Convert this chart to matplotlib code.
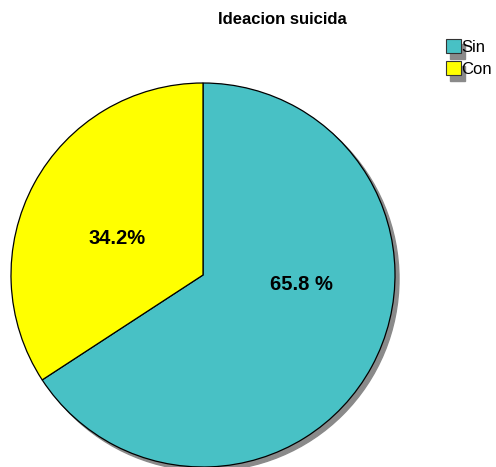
import matplotlib
matplotlib.use("Agg")
import matplotlib.pyplot as plt
from matplotlib.patches import Circle, Rectangle

categories = ["Sin", "Con"]
values = [65.8, 34.2]
labels = ["65.8 %", "34.2%"]
colors = ["#48C1C5", "#FFFF00"]
title = "Ideacion suicida"

W, H = 496, 467
plt.rcParams["font.family"] = ["Liberation Sans", "DejaVu Sans"]

fig = plt.figure(figsize=(W / 100, H / 100), dpi=100)
ax = fig.add_axes([0, 0, 1, 1])
cx, cy, r = 203, H - 275, 192

# drop shadow under the pie
ax.add_patch(Circle((cx + 4, cy - 4), r, color="#8a8a8a", zorder=0))
wedges, _ = ax.pie(values, colors=colors, startangle=90, counterclock=False,
                   center=(cx, cy), radius=r, frame=True,
                   wedgeprops=dict(edgecolor="black", linewidth=0.9))
for w in wedges:
    w.set_zorder(1)

ax.text(301, H - 284, labels[0], ha="center", va="center", fontsize=14.5, fontweight="bold", zorder=3)
ax.text(117, H - 238, labels[1], ha="center", va="center", fontsize=14.5, fontweight="bold", zorder=3)

ax.text(282, H - 20, title, ha="center", va="center", fontsize=12, fontweight="bold")

# legend
for i, (cat, col) in enumerate(zip(categories, colors)):
    y0 = H - 53 - i * 22
    ax.add_patch(Rectangle((450, y0 - 6), 15, 15, color="#8a8a8a", zorder=1))
    ax.add_patch(Rectangle((446, y0), 15, 14, facecolor=col, edgecolor="#333333", linewidth=0.8, zorder=2))
    ax.text(461, y0 + 6, cat, ha="left", va="center", fontsize=12)

ax.set_xlim(0, W)
ax.set_ylim(0, H)
ax.set_aspect("auto")
ax.axis("off")
fig.savefig("out.png", dpi=100, facecolor="white")
